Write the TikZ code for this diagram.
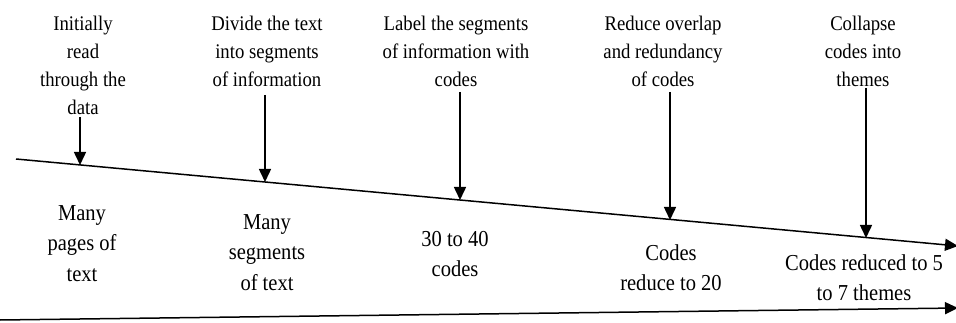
\documentclass[tikz,border=0pt]{standalone}
\usepackage{fontspec}
\setmainfont{Liberation Serif}[FakeStretch=0.9]
\usetikzlibrary{arrows.meta}
\tikzset{
  arr/.style={-{Triangle[length=13pt,width=12pt]}, line width=1.5pt},
  toplbl/.style={anchor=north, align=center, inner sep=0pt, font=\fontsize{20.8}{28}\selectfont},
  botlbl/.style={anchor=north, align=center, inner sep=0pt, font=\fontsize{22.8}{30.5}\selectfont}
}
\begin{document}
\begin{tikzpicture}[x=1pt,y=-1pt]
\useasboundingbox (0,0) rectangle (956,323);
% timeline lines
\coordinate (L0) at (16,159);
\coordinate (L1) at (958,246);
\coordinate (B0) at (0,320);
\coordinate (B1) at (958,308);
\draw[arr] (L0) -- (L1);
\draw[arr] (B0) -- (B1);
% top labels
\node[toplbl] (t1) at (83,16) {Initially\\read\\through the\\data};
\node[toplbl] (t2) at (267,16) {Divide the text\\into segments\\of information};
\node[toplbl] (t3) at (456,16) {Label the segments\\of information with\\codes};
\node[toplbl] (t4) at (663,16) {Reduce overlap\\and redundancy\\of codes};
\node[toplbl] (t5) at (863,16) {Collapse\\codes into\\themes};
% arrow start and end points
\coordinate (s1) at (80,117);  \coordinate (e1) at (80,165);
\coordinate (s2) at (265,95);  \coordinate (e2) at (265,182);
\coordinate (s3) at (460,92);  \coordinate (e3) at (460,200);
\coordinate (s4) at (670,92);  \coordinate (e4) at (670,220);
\coordinate (s5) at (866,88);  \coordinate (e5) at (866,238);
\draw[arr] (s1) -- (e1);
\draw[arr] (s2) -- (e2);
\draw[arr] (s3) -- (e3);
\draw[arr] (s4) -- (e4);
\draw[arr] (s5) -- (e5);
% bottom labels
\node[botlbl] (b1) at (82,205) {Many\\pages of\\text};
\node[botlbl] (b2) at (267,214) {Many\\segments\\of text};
\node[botlbl] (b3) at (455,231) {30 to 40\\codes};
\node[botlbl] (b4) at (671,244) {Codes\\reduce to 20};
\node[botlbl] (b5) at (864,254) {Codes reduced to 5\\to 7 themes};
\end{tikzpicture}
\end{document}
